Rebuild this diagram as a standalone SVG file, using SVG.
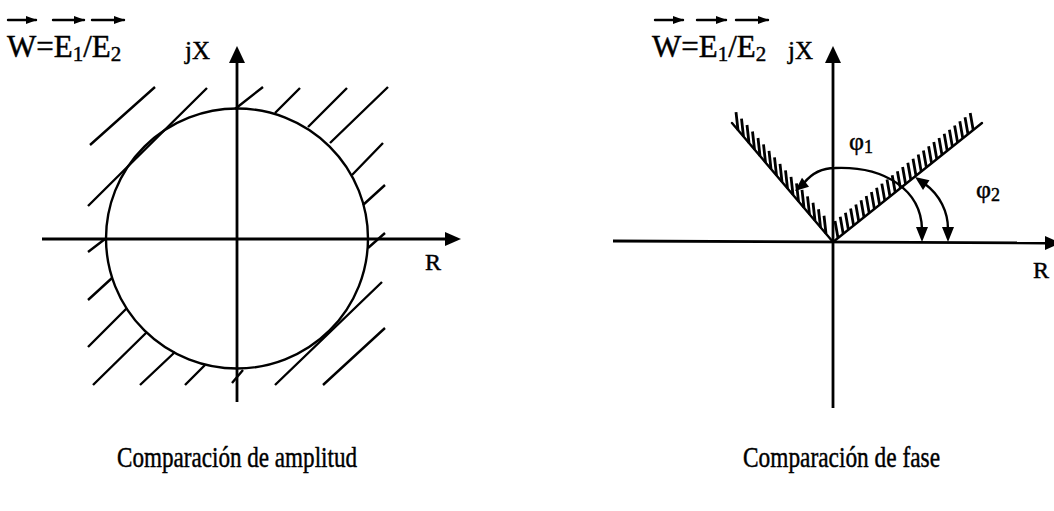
<svg xmlns="http://www.w3.org/2000/svg" width="1054" height="511" viewBox="0 0 1054 511">
<style>
.ax{stroke:#000;stroke-width:2.8;fill:none}
.ln{stroke:#000;stroke-width:2.4;fill:none;stroke-linecap:round}
.ht{stroke:#000;stroke-width:2.4;fill:none}
.hm{stroke:#000;stroke-width:2.8;fill:none}
.ah{fill:#000;stroke:none}
.t{font-family:"Liberation Serif","Times New Roman",serif;fill:#000;stroke:#000;stroke-width:0.45}
</style>
<defs>
<marker id="va" markerWidth="11" markerHeight="9" refX="10" refY="4.5" orient="auto" markerUnits="userSpaceOnUse"><path d="M0,0.5L11,4.5L0,8.5z" fill="#000"/></marker>
</defs>
<rect width="1054" height="511" fill="#fff"/>

<g id="amplitude">
  <g id="amp-title">
    <text class="t" x="7" y="57" font-size="31">W=E<tspan font-size="21" dy="4">1</tspan><tspan dy="-4">/E</tspan><tspan font-size="21" dy="4">2</tspan></text>
    <line class="ln" x1="8" y1="20" x2="36" y2="20" marker-end="url(#va)" stroke-width="2"/>
    <line class="ln" x1="53" y1="20" x2="84" y2="20" marker-end="url(#va)" stroke-width="2"/>
    <line class="ln" x1="92" y1="20" x2="124" y2="20" marker-end="url(#va)" stroke-width="2"/>
  </g>
  <g id="amp-hatch" class="ht">
    <path d="M90,145L155,87M88,206L207,88M235,109L263,87M275,113L300,88M308,127L347,88M330,143L388,87M352,175L383,143M363,205L385,185M368,248L385,233M88,252L105,239M88,300L112,278M88,347L127,308M93,385L147,332M140,385L175,352M185,385L205,365M232,383L243,370M275,385L382,282M323,385L385,328"/>
  </g>
  <g id="amp-circle"><ellipse class="ln" cx="237" cy="238.5" rx="131" ry="130"/></g>
  <g id="amp-axes">
    <line class="ax" x1="42" y1="239" x2="447" y2="239"/>
    <path class="ah" d="M461,239L445,232L445,246z"/>
    <line class="ax" x1="237" y1="60" x2="237" y2="402"/>
    <path class="ah" d="M237,46L229,63L245,63z"/>
  </g>
  <text class="t" x="185" y="59" font-size="25">jX</text>
  <text class="t" x="425" y="270" font-size="24">R</text>
  <text class="t" x="117" y="467" font-size="29" textLength="240" lengthAdjust="spacingAndGlyphs">Comparación de amplitud</text>
</g>

<g id="phase">
  <g id="phase-title">
    <text class="t" x="652" y="57" font-size="31">W=E<tspan font-size="21" dy="4">1</tspan><tspan dy="-4">/E</tspan><tspan font-size="21" dy="4">2</tspan></text>
    <line class="ln" x1="655" y1="20" x2="683" y2="20" marker-end="url(#va)" stroke-width="2"/>
    <line class="ln" x1="697" y1="20" x2="726" y2="20" marker-end="url(#va)" stroke-width="2"/>
    <line class="ln" x1="736" y1="20" x2="768" y2="20" marker-end="url(#va)" stroke-width="2"/>
  </g>
  <g id="phase-axes">
    <line class="ax" x1="613" y1="241" x2="1046" y2="243"/>
    <path class="ah" d="M1061,243L1045,236L1045,250z"/>
    <line class="ax" x1="833" y1="60" x2="833" y2="408"/>
    <path class="ah" d="M833,46L825,63L841,63z"/>
  </g>
  <g id="phase-limits">
    <line class="ln" x1="732" y1="123" x2="833" y2="242"/>
    <line class="ln" x1="833" y1="242" x2="982" y2="123"/>
    <path class="hm" d="M738,130.07l-2,-18m7.5,24.479l-2,-18m7.5,24.479l-2,-18m7.5,24.479l-2,-18m7.5,24.479l-2,-18m7.5,24.479l-2,-18m7.5,24.479l-2,-18m7.5,24.479l-2,-18m7.5,24.479l-2,-18m7.5,24.479l-2,-18m7.5,24.479l-2,-18m7.5,24.479l-2,-18m7.5,24.479l-2,-18m7.5,24.479l-2,-18m7.5,24.479l-2,-18m7.5,24.479l-2,-18m7.5,24.479l-2,-18"/>
    <path class="hm" d="M838,238l-3,-17m8.2,12.847l-3,-17m8.2,12.847l-3,-17m8.2,12.847l-3,-17m8.2,12.847l-3,-17m8.2,12.847l-3,-17m8.2,12.847l-3,-17m8.2,12.847l-3,-17m8.2,12.847l-3,-17m8.2,12.847l-3,-17m8.2,12.847l-3,-17m8.2,12.847l-3,-17m8.2,12.847l-3,-17m8.2,12.847l-3,-17m8.2,12.847l-3,-17m8.2,12.847l-3,-17m8.2,12.847l-3,-17m8.2,12.847l-3,-17m8.2,12.847l-3,-17m8.2,12.847l-3,-17m8.2,12.847l-3,-17m8.2,12.847l-3,-17m8.2,12.847l-3,-17m8.2,12.847l-3,-17m8.2,12.847l-3,-17m8.2,12.847l-3,-17m8.2,12.847l-3,-17"/>
  </g>
  <g id="phi1">
    <path class="ln" d="M804,183C812,173 822,168 835,168C885,166 921,190 922,229"/>
    <path class="ah" d="M795,191L809,186.8L802,177.8z"/>
    <path class="ah" d="M922,242L916,227L928,227z"/>
    <text class="t" x="849" y="150" font-size="26">φ<tspan font-size="18" dy="3">1</tspan></text>
  </g>
  <g id="phi2">
    <path class="ln" d="M925,184C940,195 948,212 948,229"/>
    <path class="ah" d="M915,177L929.5,180.2L923,190z"/>
    <path class="ah" d="M948,242L942,227L954,227z"/>
    <text class="t" x="976" y="198" font-size="26">φ<tspan font-size="18" dy="3">2</tspan></text>
  </g>
  <text class="t" x="788" y="59" font-size="25">jX</text>
  <text class="t" x="1033" y="278" font-size="24">R</text>
  <text class="t" x="743" y="467" font-size="29" textLength="197" lengthAdjust="spacingAndGlyphs">Comparación de fase</text>
</g>
</svg>
